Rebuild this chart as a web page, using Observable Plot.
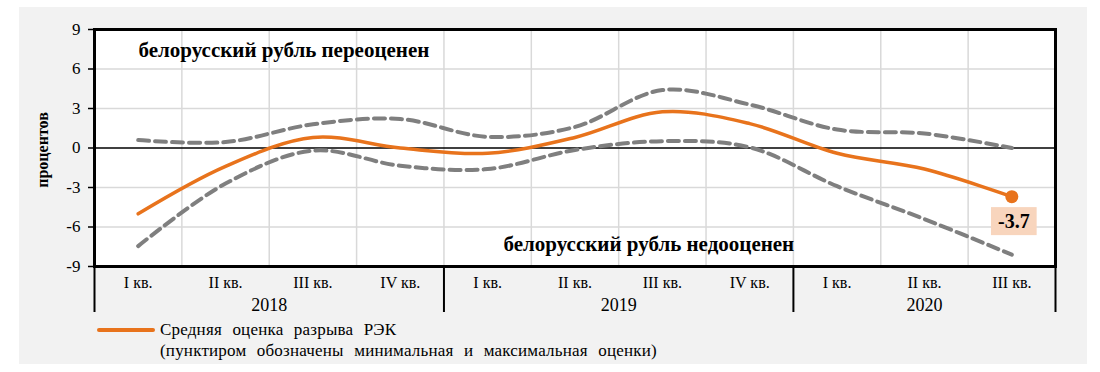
<!DOCTYPE html>
<html><head><meta charset="utf-8">
<script src="https://cdn.jsdelivr.net/npm/d3@7"></script>
<script src="https://cdn.jsdelivr.net/npm/@observablehq/plot@0.6"></script>
<style>
body{margin:0;background:#fff;font-family:'Liberation Serif','DejaVu Serif',serif;}
#wrap{position:relative;width:1100px;height:372px;overflow:hidden;}
#bg{position:absolute;left:19px;top:7px;width:1068px;height:357px;background:#f2f2f2;}
#chart{position:absolute;left:0;top:0;}
#legend{position:absolute;left:97px;top:319px;font-size:17px;line-height:21px;color:#000;word-spacing:6px;letter-spacing:0.2px;font-family:'Liberation Serif','DejaVu Serif',serif;}
#legend .sw{position:absolute;left:0;top:9px;width:58px;height:4px;background:#E8731C;border-radius:2px;}
#legend .tx{margin-left:63px;white-space:nowrap;}
svg text{font-family:'Liberation Serif','DejaVu Serif',serif;}
</style></head>
<body>
<div id="wrap"><div id="bg"></div><div id="chart"></div>
<div id="legend"><div class="sw"></div><div class="tx">Средняя оценка разрыва РЭК<br>(пунктиром обозначены минимальная и максимальная оценки)</div></div>
</div>
<script>
const quarters = ["I кв.","II кв.","III кв.","IV кв.","I кв.","II кв.","III кв.","IV кв.","I кв.","II кв.","III кв."];
const quarterYear = ["2018","2018","2018","2018","2019","2019","2019","2019","2020","2020","2020"];
const years = ["2018","2019","2020"];
const meanGap = [-5.0,-1.4,0.8,0.0,-0.4,0.8,2.75,1.85,-0.4,-1.6,-3.7];
const maxGap  = [0.6,0.45,1.8,2.2,0.85,1.6,4.4,3.3,1.4,1.1,0.0];
const minGap  = [-7.45,-2.7,-0.2,-1.35,-1.6,-0.15,0.52,0.05,-2.9,-5.4,-8.1];
const yTicks = [-9,-6,-3,0,3,6,9];
const noteOver = "белорусский рубль переоценен";
const noteUnder = "белорусский рубль недооценен";
const yLabel = "процентов";

const n = quarters.length;
const idx = d3.range(n);
const W = 1100, H = 320, mT = 29, mB = 54, mL = 94, mR = 45;
const plotH = H - mT - mB;
const ORANGE = "#E8731C", GREY = "#7f7f7f";
const FONT = "'Liberation Serif', 'DejaVu Serif', serif";

const boundaries = d3.range(1, n).map(i => i - 0.5);
const separators = [-0.5, ...idx.filter(i => i > 0 && quarterYear[i] !== quarterYear[i-1]).map(i => i - 0.5), n - 0.5];
const yearCenters = years.map(y => ({year: y, x: d3.mean(idx.filter(i => quarterYear[i] === y))}));
const last = [{i: n - 1, v: meanGap[n - 1]}];

const plot = Plot.plot({
  width: W, height: H,
  marginTop: mT, marginBottom: mB, marginLeft: mL, marginRight: mR,
  style: {background: "transparent", fontFamily: FONT, color: "#000", overflow: "visible"},
  x: {type: "linear", domain: [-0.5, n - 0.5], axis: null},
  y: {domain: [-9, 9], axis: null},
  marks: [
    Plot.frame({fill: "white", stroke: null}),
    Plot.gridY(yTicks.filter(t => t !== 0), {stroke: "#d9d9d9", strokeOpacity: 1, strokeWidth: 1.5}),
    Plot.ruleX(boundaries, {x: d => d, stroke: "#d9d9d9", strokeWidth: 1.5}),
    Plot.ruleY([0], {stroke: "#000", strokeWidth: 1.5}),
    Plot.axisY(yTicks, {tickSize: 6, tickPadding: 8, fontSize: 17, tickFormat: d => d, strokeWidth: 1.5, label: null}),
    Plot.text([yLabel], {frameAnchor: "left", textAnchor: "middle", dx: -52, dy: 2, rotate: -90, fontSize: 16, fontWeight: "bold"}),
    Plot.line(idx, {x: i => i, y: i => maxGap[i], curve: "catmull-rom", stroke: GREY, strokeWidth: 4, strokeDasharray: "11,6"}),
    Plot.line(idx, {x: i => i, y: i => minGap[i], curve: "catmull-rom", stroke: GREY, strokeWidth: 4, strokeDasharray: "11,6"}),
    Plot.line(idx, {x: i => i, y: i => meanGap[i], curve: "catmull-rom", stroke: ORANGE, strokeWidth: 3.5}),
    Plot.dot(last, {x: "i", y: "v", r: 6.5, fill: ORANGE, stroke: null}),
    Plot.text(last, {x: "i", y: "v", text: d => d.v.toFixed(1), dy: 25, dx: 2, fontSize: 20, fontWeight: "bold", className: "endlabel"}),
    Plot.text([noteOver], {frameAnchor: "top-left", dx: 44, dy: 21, textAnchor: "start", lineAnchor: "middle", fontSize: 21, fontWeight: "bold", style: "letter-spacing:1.75px"}),
    Plot.text([noteUnder], {frameAnchor: "bottom-left", dx: 409, dy: -22, textAnchor: "start", lineAnchor: "middle", fontSize: 21, fontWeight: "bold", style: "letter-spacing:1.75px"}),
    Plot.frame({stroke: "#000", strokeWidth: 3}),
    Plot.ruleX(separators, {x: d => d, stroke: "#000", strokeWidth: 2, insetTop: plotH, insetBottom: -46}),
    Plot.text(idx, {x: i => i, frameAnchor: "bottom", dy: 16, lineAnchor: "middle", text: i => quarters[i], fontSize: 16}),
    Plot.text(yearCenters, {x: "x", frameAnchor: "bottom", dy: 39, lineAnchor: "middle", text: "year", fontSize: 18, style: "letter-spacing:1.5px"})
  ]
});
document.getElementById("chart").appendChild(plot);

// highlight box behind the end-value label
d3.select(plot).selectAll("g.endlabel text").each(function() {
  const b = this.getBBox();
  const padX = 7, padY = 3;
  d3.select(this.parentNode).insert("rect", () => this)
    .attr("transform", this.getAttribute("transform"))
    .attr("x", b.x - padX).attr("y", b.y - padY)
    .attr("width", b.width + 2 * padX).attr("height", b.height + 2 * padY)
    .attr("fill", "#f8d5bd");
});
</script>
</body></html>
